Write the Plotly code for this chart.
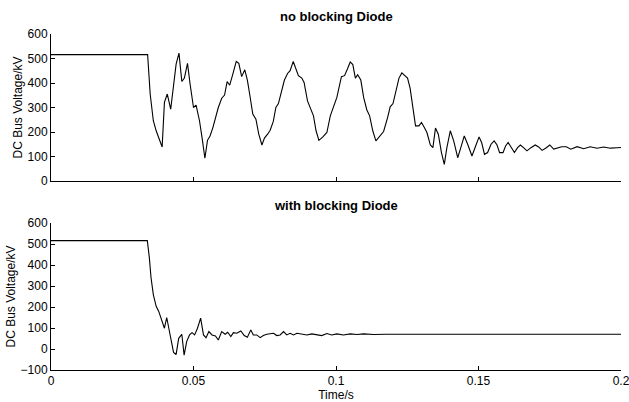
import plotly.graph_objects as go
from plotly.subplots import make_subplots

# ---- data: no blocking diode ----
t_top = [0, 0.0339, 0.0348, 0.0359, 0.0369, 0.0380, 0.0390, 0.0398, 0.0408, 0.0420, 0.0430,
         0.0439, 0.0449, 0.0459, 0.0468, 0.0479, 0.0488, 0.0500, 0.0509, 0.0521, 0.0530,
         0.0540, 0.0549, 0.0558, 0.0568, 0.0578, 0.0587, 0.0599, 0.0609, 0.0618, 0.0627,
         0.0638, 0.0650, 0.0659, 0.0669, 0.0680, 0.0689, 0.0698, 0.0708, 0.0719, 0.0729,
         0.0740, 0.0749, 0.0760, 0.0769, 0.0780, 0.0789, 0.0798, 0.0810, 0.0819, 0.0830,
         0.0839, 0.0850, 0.0859, 0.0868, 0.0880, 0.0888, 0.0900, 0.0912, 0.0921, 0.0930,
         0.0940, 0.0954, 0.0968, 0.0980, 0.0991, 0.1003, 0.1019, 0.1030, 0.1040, 0.1050,
         0.1059, 0.1068, 0.1076, 0.1087, 0.1097, 0.1108, 0.1118, 0.1129, 0.1140, 0.1153,
         0.1167, 0.1181, 0.1190, 0.1200, 0.1211, 0.1221, 0.1231, 0.1243, 0.1251, 0.1260,
         0.1270, 0.1279, 0.1291, 0.1300, 0.1310, 0.1319, 0.1331, 0.1340, 0.1349, 0.1359,
         0.1370, 0.1380, 0.1389, 0.1401, 0.1413, 0.1427, 0.1438, 0.1450, 0.1462, 0.1477,
         0.1490, 0.1502, 0.1511, 0.1521, 0.1532, 0.1544, 0.1555, 0.1565, 0.1574, 0.1586,
         0.1595, 0.1604, 0.1614, 0.1626, 0.1637, 0.1647, 0.1658, 0.1670, 0.1684, 0.1699,
         0.1711, 0.1723, 0.1738, 0.1750, 0.1764, 0.1778, 0.1792, 0.1808, 0.1824, 0.1846,
         0.1869, 0.1892, 0.1916, 0.1939, 0.1963, 0.1986, 0.2000]
v_top = [516, 516, 355, 246, 205, 171, 139, 321, 355, 293, 396,
         477, 522, 406, 420, 480, 396, 300, 310, 246, 177,
         93, 166, 184, 218, 266, 300, 338, 351, 406, 391,
         436, 488, 480, 426, 454, 412, 348, 273, 252, 191,
         147, 175, 191, 207, 243, 300, 316, 368, 412, 439,
         450, 488, 461, 430, 420, 402, 327, 293, 266, 205,
         166, 180, 198, 266, 300, 341, 426, 430, 457, 486,
         475, 420, 434, 412, 341, 291, 266, 205, 164, 184,
         202, 259, 303, 316, 368, 420, 441, 430, 420, 379,
         293, 225, 225, 239, 218, 198, 147, 136, 216, 191,
         116, 68, 136, 205, 164, 95, 136, 184, 150, 102,
         143, 180, 157, 109, 116, 150, 164, 147, 116, 116,
         143, 157, 139, 116, 136, 147, 136, 123, 136, 147,
         139, 125, 136, 147, 130, 136, 140, 140, 130, 140,
         132, 140, 134, 139, 134, 136, 137]

# ---- data: with blocking diode ----
t_bot = [0, 0.0338, 0.0345, 0.0351, 0.0359, 0.0369, 0.0378, 0.0389, 0.0398, 0.0406, 0.0415,
         0.0430, 0.0439, 0.0448, 0.0459, 0.0467, 0.0476, 0.0486, 0.0495, 0.0504, 0.0514,
         0.0525, 0.0535, 0.0544, 0.0554, 0.0565, 0.0577, 0.0587, 0.0599, 0.0611, 0.0620,
         0.0631, 0.0640, 0.0652, 0.0666, 0.0678, 0.0689, 0.0701, 0.0710, 0.0722, 0.0734,
         0.0745, 0.0757, 0.0781, 0.0792, 0.0804, 0.0816, 0.0827, 0.0839, 0.0851, 0.0863,
         0.0880, 0.0898, 0.0915, 0.0933, 0.0950, 0.0968, 0.0985, 0.1003, 0.1026, 0.1050,
         0.1073, 0.1097, 0.1132, 0.1178, 0.1225, 0.2000]
v_bot = [516, 516, 435, 339, 259, 203, 179, 139, 99, 150, 83,
         -16, -26, 51, 70, -29, 35, 67, 78, 67, 99,
         147, 67, 54, 83, 67, 62, 43, 83, 70, 80,
         59, 78, 75, 86, 64, 56, 91, 67, 67, 54,
         64, 70, 75, 64, 67, 83, 67, 75, 67, 75,
         72, 67, 72, 67, 64, 74, 67, 72, 67, 72,
         69, 72, 69, 70, 70, 70]

titles = ["no blocking Diode", "with blocking Diode"]
x_ticks = [0, 0.05, 0.1, 0.15, 0.2]
x_tick_text = ["0", "0.05", "0.1", "0.15", "0.2"]
y_ticks_top = [0, 100, 200, 300, 400, 500, 600]
y_ticks_bot = [-100, 0, 100, 200, 300, 400, 500, 600]

FONT = "Liberation Sans, Arial, Helvetica, sans-serif"
TF = dict(family=FONT, size=12, color="black")

fig = make_subplots(rows=2, cols=1, vertical_spacing=0.125)
fig.add_trace(go.Scatter(x=t_top, y=v_top, mode="lines",
                         line=dict(color="black", width=1.1), showlegend=False), row=1, col=1)
fig.add_trace(go.Scatter(x=t_bot, y=v_bot, mode="lines",
                         line=dict(color="black", width=1.1), showlegend=False), row=2, col=1)

axis_common = dict(showline=True, linecolor="black", linewidth=1, ticks="inside",
                   ticklen=4, tickcolor="black", showgrid=False, zeroline=False,
                   tickfont=TF, mirror=False, automargin=False,
                   ticklabeloverflow="allow")

fig.update_xaxes(range=[0, 0.2], tickvals=x_ticks, ticktext=x_tick_text, **axis_common)
fig.update_xaxes(showticklabels=False, row=1, col=1)
fig.update_xaxes(title=dict(text="Time/s", font=TF, standoff=0), row=2, col=1)
fig.update_yaxes(**axis_common)
fig.update_yaxes(range=[0, 600], tickvals=y_ticks_top,
                 title=dict(text="DC Bus Voltage/kV", font=TF, standoff=2), row=1, col=1)
fig.update_yaxes(range=[-100, 600], tickvals=y_ticks_bot,
                 title=dict(text="DC Bus Voltage/kV", font=TF, standoff=2), row=2, col=1)

fig.update_layout(
    width=629, height=402,
    margin=dict(l=51, r=8, t=34, b=32),
    plot_bgcolor="white", paper_bgcolor="white",
    font=TF,
)
fig.update_xaxes(domain=[0, 1])
fig.update_yaxes(domain=[0.5625, 1], row=1, col=1)
fig.update_yaxes(domain=[0, 0.4375], row=2, col=1)

for i, txt in enumerate(titles):
    fig.add_annotation(text="<b>" + txt + "</b>", xref="paper", yref="paper",
                       x=0.5, y=[1, 0.4375][i], yshift=8, yanchor="bottom", showarrow=False,
                       font=dict(family=FONT, size=13, color="black"))

fig.write_html("out.html")
